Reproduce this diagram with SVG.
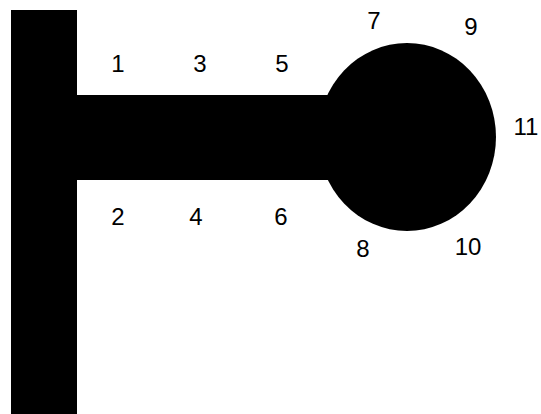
<svg xmlns="http://www.w3.org/2000/svg" width="541" height="414" viewBox="0 0 541 414">
<style>
.shape{fill:#000}
.lbl{font-family:"Liberation Sans",Arial,sans-serif;font-size:24px;fill:#000;text-anchor:middle}
</style>
<rect width="541" height="414" fill="#fff"/>
<g id="vertical-bar"><rect class="shape" x="11" y="10" width="66" height="404"/></g>
<g id="horizontal-bar"><rect class="shape" x="76" y="95" width="270" height="85"/></g>
<g id="bulb"><ellipse class="shape" cx="407" cy="137" rx="89" ry="94"/></g>
<g id="connectors"></g>
<g id="labels">
<text class="lbl" x="118" y="72">1</text>
<text class="lbl" x="200" y="72">3</text>
<text class="lbl" x="282" y="72">5</text>
<text class="lbl" x="118" y="225">2</text>
<text class="lbl" x="196" y="225">4</text>
<text class="lbl" x="281" y="225">6</text>
<text class="lbl" x="374" y="29">7</text>
<text class="lbl" x="471" y="35">9</text>
<text class="lbl" x="526" y="135">11</text>
<text class="lbl" x="363" y="257">8</text>
<text class="lbl" x="468" y="255">10</text>
</g>
</svg>
